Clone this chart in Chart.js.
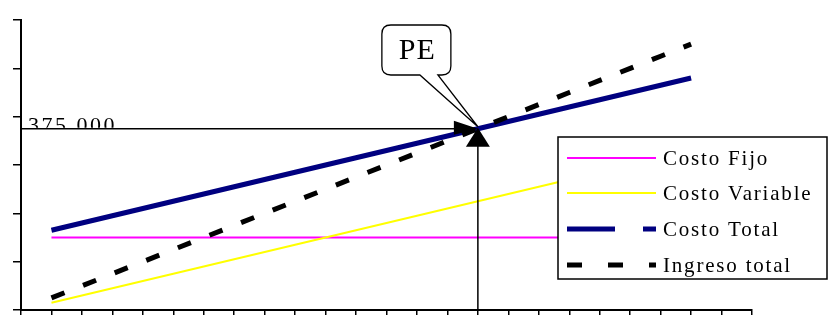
<!DOCTYPE html>
<html>
<head>
<meta charset="utf-8">
<script src="https://cdn.jsdelivr.net/npm/chart.js@4/dist/chart.umd.min.js"></script>
<style>
  html, body { margin: 0; padding: 0; background: #fff; }
  #wrap { width: 836px; height: 321px; }
</style>
</head>
<body>
<div id="wrap"><canvas id="myChart" width="836" height="321"></canvas></div>
<script>
// unidades vendidas (eje x)
var unidades = [1, 2, 3, 4, 5, 6, 7, 8, 9, 10, 11, 12, 13, 14, 15, 16, 17, 18, 19, 20, 21, 22];
var costoFijo = [150000, 150000, 150000, 150000, 150000, 150000, 150000, 150000, 150000, 150000, 150000,
                 150000, 150000, 150000, 150000, 150000, 150000, 150000, 150000, 150000, 150000, 150000];
var costoVariable = [15000, 30000, 45000, 60000, 75000, 90000, 105000, 120000, 135000, 150000, 165000,
                     180000, 195000, 210000, 225000, 240000, 255000, 270000, 285000, 300000, 315000, 330000];
var costoTotal = [165000, 180000, 195000, 210000, 225000, 240000, 255000, 270000, 285000, 300000, 315000,
                  330000, 345000, 360000, 375000, 390000, 405000, 420000, 435000, 450000, 465000, 480000];
var ingresoTotal = [25000, 50000, 75000, 100000, 125000, 150000, 175000, 200000, 225000, 250000, 275000,
                    300000, 325000, 350000, 375000, 400000, 425000, 450000, 475000, 500000, 525000, 550000];
var seriesNames = ['Costo Fijo', 'Costo Variable', 'Costo Total', 'Ingreso total'];
var peUnidades = 15;
var peValor = 375000;
var peLabel = '375.000';

function pares(vals) {
    return unidades.map(function (u, i) { return { x: u, y: vals[i] }; });
}

var serif = '"Liberation Serif", "Times New Roman", serif';

// lineas del punto de equilibrio, globo "PE" y leyenda
var extras = {
    id: 'extras',
    afterDatasetsDraw: function (chart) {
        let ctx = chart.ctx;
        let xs = chart.scales.x, ys = chart.scales.y;
        let area = chart.chartArea;
        let px = xs.getPixelForValue(peUnidades);
        let py = ys.getPixelForValue(peValor);

        ctx.save();
        // texto 375.000 (cortado por la linea)
        ctx.save();
        ctx.beginPath();
        ctx.rect(area.left + 2, 0, 200, py - 1);
        ctx.clip();
        ctx.fillStyle = '#000';
        ctx.font = '22px ' + serif;
        ctx.letterSpacing = '2.5px';
        ctx.textBaseline = 'alphabetic';
        ctx.fillText(peLabel, area.left + 7, py + 3);
        ctx.restore();

        ctx.strokeStyle = '#000';
        ctx.fillStyle = '#000';
        ctx.lineWidth = 1.5;
        ctx.beginPath();
        ctx.moveTo(area.left, py);
        ctx.lineTo(px - 4, py);
        ctx.moveTo(px, area.bottom);
        ctx.lineTo(px, py + 4);
        ctx.stroke();
        // punta horizontal
        ctx.beginPath();
        ctx.moveTo(px, py);
        ctx.lineTo(px - 24, py - 8);
        ctx.lineTo(px - 24, py + 6);
        ctx.closePath();
        ctx.fill();
        // punta vertical
        ctx.beginPath();
        ctx.moveTo(px, py - 1);
        ctx.lineTo(px - 12, py + 18);
        ctx.lineTo(px + 12, py + 18);
        ctx.closePath();
        ctx.fill();

        // globo PE
        let bx = px - 96, by = 25, bw = 69, bh = 50, r = 9;
        ctx.beginPath();
        ctx.moveTo(bx + r, by);
        ctx.lineTo(bx + bw - r, by);
        ctx.quadraticCurveTo(bx + bw, by, bx + bw, by + r);
        ctx.lineTo(bx + bw, by + bh - r);
        ctx.quadraticCurveTo(bx + bw, by + bh, bx + bw - r, by + bh);
        ctx.lineTo(px - 40, by + bh);
        ctx.lineTo(px, py - 2);
        ctx.lineTo(px - 58, by + bh);
        ctx.lineTo(bx + r, by + bh);
        ctx.quadraticCurveTo(bx, by + bh, bx, by + bh - r);
        ctx.lineTo(bx, by + r);
        ctx.quadraticCurveTo(bx, by, bx + r, by);
        ctx.closePath();
        ctx.fillStyle = '#fff';
        ctx.fill();
        ctx.lineWidth = 1.3;
        ctx.stroke();
        ctx.fillStyle = '#000';
        ctx.font = '30px ' + serif;
        ctx.letterSpacing = '1px';
        ctx.textAlign = 'center';
        ctx.textBaseline = 'middle';
        ctx.fillText('PE', bx + bw / 2 + 1, by + bh / 2 + 1);

        // leyenda
        let lx = 558, ly = 137, lw = 269, lh = 142;
        ctx.fillStyle = '#fff';
        ctx.fillRect(lx, ly, lw, lh);
        ctx.strokeStyle = '#000';
        ctx.lineWidth = 1.5;
        ctx.strokeRect(lx, ly, lw, lh);
        let rows = [158, 193, 229, 265];
        chart.data.datasets.forEach(function (ds, i) {
            let yy = rows[i];
            ctx.save();
            ctx.strokeStyle = ds.borderColor;
            ctx.lineWidth = ds.borderWidth;
            if (i === 2) ctx.setLineDash([48, 28]);
            if (i === 3) ctx.setLineDash([15, 26]);
            ctx.beginPath();
            ctx.moveTo(567, yy);
            ctx.lineTo(656, yy);
            ctx.stroke();
            ctx.restore();
            ctx.fillStyle = '#000';
            ctx.font = '21px ' + serif;
            ctx.letterSpacing = '1.8px';
            ctx.textAlign = 'left';
            ctx.textBaseline = 'middle';
            ctx.fillText(ds.label, 663, yy + 1);
        });
        ctx.restore();
    }
};

let ctx = document.getElementById('myChart').getContext('2d');
let myChart = new Chart(ctx, {
    type: 'line',
    data: {
        datasets: [
            { label: seriesNames[0], data: pares(costoFijo), borderColor: '#ff00ff', borderWidth: 2, order: 3 },
            { label: seriesNames[1], data: pares(costoVariable), borderColor: '#ffff00', borderWidth: 2, order: 2 },
            { label: seriesNames[2], data: pares(costoTotal), borderColor: '#000080', borderWidth: 5, order: 1 },
            { label: seriesNames[3], data: pares(ingresoTotal), borderColor: '#000000', borderWidth: 5,
              borderDash: [14, 20], borderCapStyle: 'butt', order: 0 }
        ]
    },
    options: {
        responsive: false,
        animation: false,
        layout: { padding: { left: 13, top: 20, right: 84, bottom: 6 } },
        elements: { point: { radius: 0 }, line: { tension: 0, fill: false } },
        plugins: { legend: { display: false }, tooltip: { enabled: false } },
        scales: {
            x: {
                type: 'linear', min: 0, max: 24,
                ticks: { display: false, stepSize: 1 },
                grid: { display: true, drawOnChartArea: false, drawTicks: true, tickLength: 5, color: '#000', lineWidth: 1.5 },
                border: { display: true, color: '#000', width: 2 }
            },
            y: {
                min: 0, max: 600000,
                ticks: { display: false, stepSize: 100000 },
                grid: { display: true, drawOnChartArea: false, drawTicks: true, tickLength: 8, color: '#000', lineWidth: 1.5 },
                border: { display: true, color: '#000', width: 2 }
            }
        }
    },
    plugins: [extras]
});
</script>
</body>
</html>
